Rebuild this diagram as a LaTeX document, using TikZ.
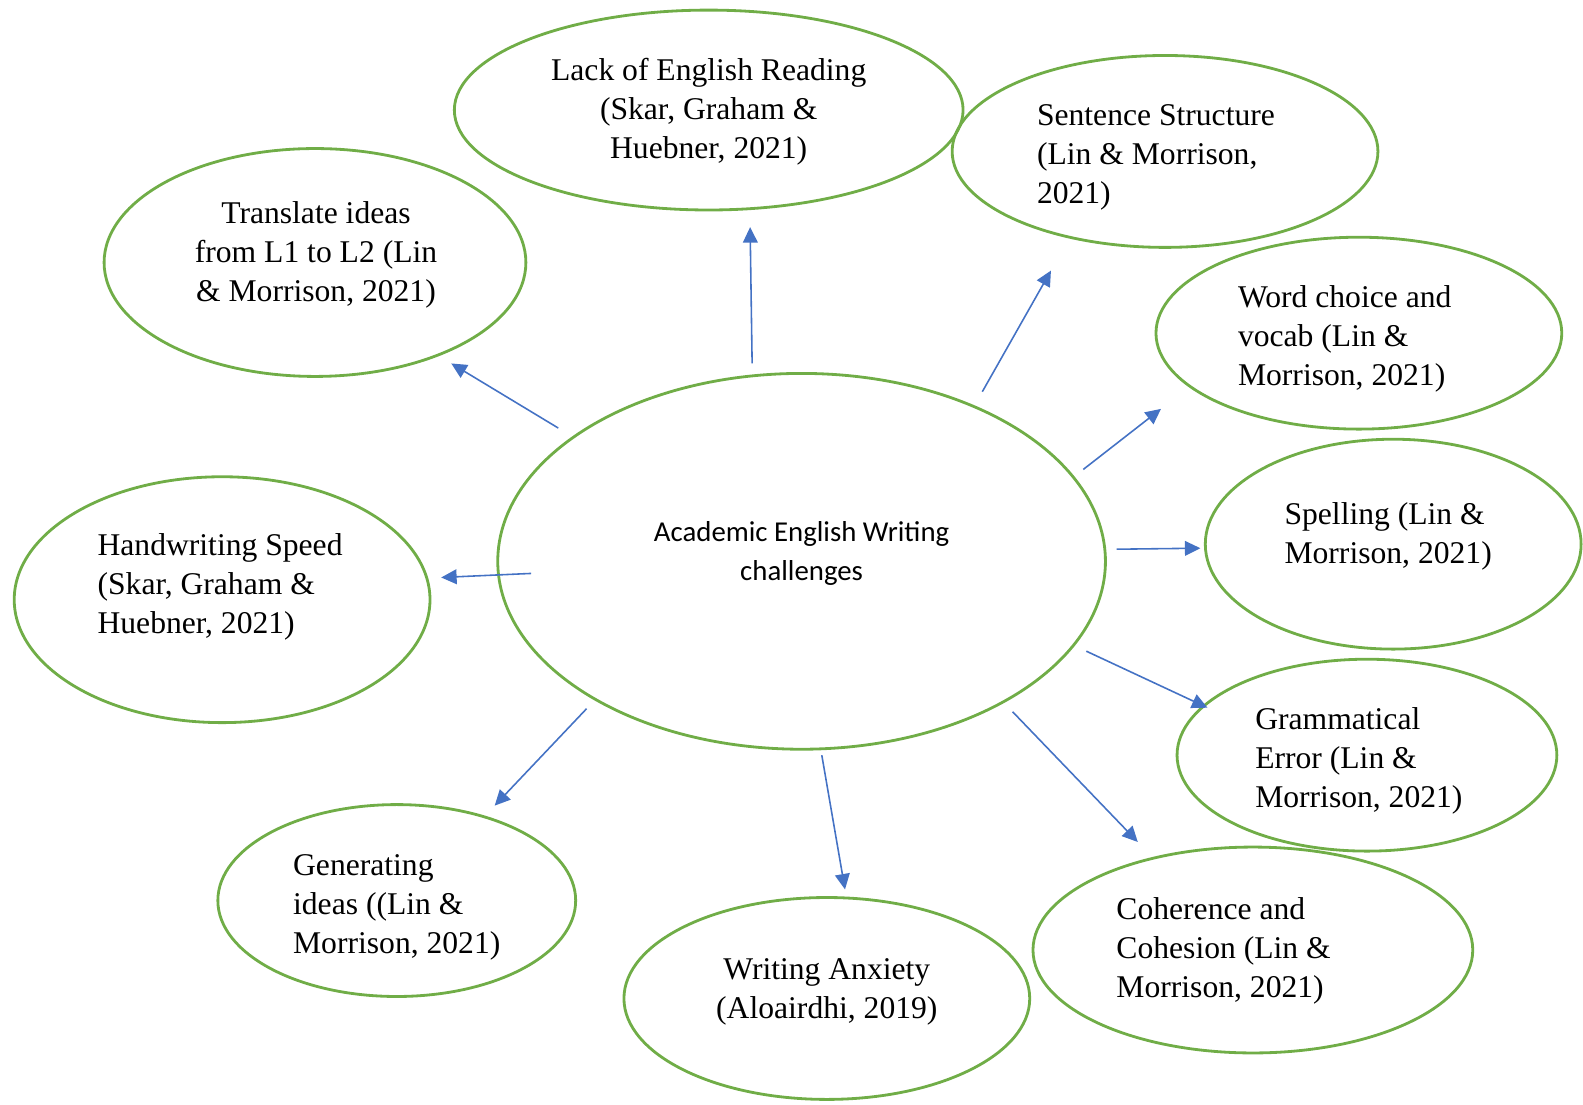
\documentclass[tikz,border=0pt]{standalone}
\usepackage{fontspec}
\setmainfont{Liberation Serif}
\newfontfamily\calibri{Carlito}
\usetikzlibrary{shapes.geometric,arrows.meta}

\definecolor{leaf}{RGB}{112,173,71}
\definecolor{office}{RGB}{68,114,196}

\tikzstyle{bubble} = [ellipse,draw=leaf,line width=0.8pt,inner sep=0pt]
\tikzstyle{words} = [inner sep=0pt,font=\fontsize{9}{11.1}\selectfont]
\tikzstyle{arrow} = [draw=office,line width=0.45pt,-{Triangle[length=4.4pt,width=4.2pt]}]

\begin{document}
\begin{tikzpicture}[x=0.0101cm,y=-0.0101cm]
\useasboundingbox (0,0) rectangle (1568,1094);

% ellipses
\node [bubble,minimum width=6.08cm,minimum height=3.76cm] (centre) at (794,556) {};
\node [bubble,minimum width=5.09cm,minimum height=2.00cm] (lack) at (702,109) {};
\node [bubble,minimum width=4.26cm,minimum height=1.92cm] (sent) at (1154,150) {};
\node [bubble,minimum width=4.22cm,minimum height=2.28cm] (trans) at (312,260) {};
\node [bubble,minimum width=4.06cm,minimum height=1.92cm] (word) at (1346,330) {};
\node [bubble,minimum width=4.16cm,minimum height=2.46cm] (hand) at (220,594) {};
\node [bubble,minimum width=3.76cm,minimum height=2.10cm] (spell) at (1380,539) {};
\node [bubble,minimum width=3.80cm,minimum height=1.92cm] (gram) at (1354,748) {};
\node [bubble,minimum width=3.58cm,minimum height=1.92cm] (gen) at (393,892) {};
\node [bubble,minimum width=4.06cm,minimum height=2.02cm] (anx) at (819,989) {};
\node [bubble,minimum width=4.40cm,minimum height=2.06cm] (coh) at (1241,941) {};

% texts
\node [inner sep=0pt,align=center,font=\calibri\fontsize{8.2}{11.1}\selectfont] (centre-t) at (794,548) {Academic English Writing\\challenges};
\node [words,align=center] (lack-t) at (702,111) {Lack of English Reading\\(Skar, Graham \&\\Huebner, 2021)};
\node [words,align=left] (sent-t) at (1145,156) {Sentence Structure\\(Lin \& Morrison,\\2021)};
\node [words,align=center] (trans-t) at (313,252) {Translate ideas\\from L1 to L2 (Lin\\\& Morrison, 2021)};
\node [words,align=left] (word-t) at (1332,336) {Word choice and\\vocab (Lin \&\\Morrison, 2021)};
\node [words,align=left] (hand-t) at (218,581) {Handwriting Speed\\(Skar, Graham \&\\Huebner, 2021)};
\node [words,align=left] (spell-t) at (1375,531) {Spelling (Lin \&\\Morrison, 2021)};
\node [words,align=left] (gram-t) at (1346,754) {Grammatical\\Error (Lin \&\\Morrison, 2021)};
\node [words,align=left] (gen-t) at (393,899) {Generating\\ideas ((Lin \&\\Morrison, 2021)};
\node [words,align=center] (anx-t) at (819,982) {Writing Anxiety\\(Aloairdhi, 2019)};
\node [words,align=left] (coh-t) at (1212,942) {Coherence and\\Cohesion (Lin \&\\Morrison, 2021)};

% arrow ends
\coordinate (t1) at (553,424); \coordinate (h1) at (447,360);
\coordinate (t2) at (745,360); \coordinate (h2) at (743,225);
\coordinate (t3) at (973,388); \coordinate (h3) at (1041,268);
\coordinate (t4) at (1073,465); \coordinate (h4) at (1150,405);
\coordinate (t5) at (1106,544); \coordinate (h5) at (1189,543);
\coordinate (t6) at (1076,645); \coordinate (h6) at (1196,701);
\coordinate (t7) at (1003,705); \coordinate (h7) at (1127,834);
\coordinate (t8) at (814,748); \coordinate (h8) at (837,881);
\coordinate (t9) at (581,702); \coordinate (h9) at (490,798);
\coordinate (t10) at (526,568); \coordinate (h10) at (437,572);

% arrows
\foreach \i in {1,...,10}
  \draw [arrow] (t\i) -- (h\i);

\end{tikzpicture}
\end{document}
